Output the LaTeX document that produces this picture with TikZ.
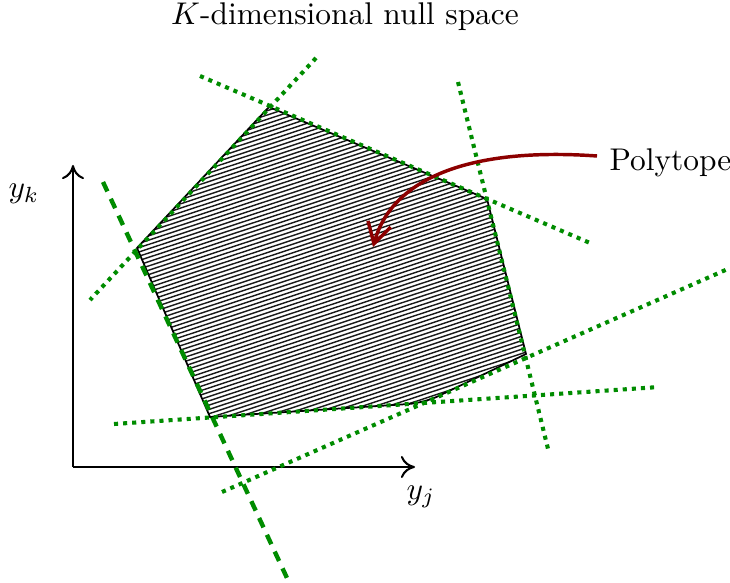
\documentclass[tikz,border=0pt]{standalone}
\usetikzlibrary{arrows.meta}
\definecolor{nsgreen}{RGB}{0,140,0}
\definecolor{nsred}{RGB}{140,0,0}
\begin{document}
\begin{tikzpicture}[x=0.3185pt,y=-0.3185pt,
  bound/.style={draw=nsgreen,line width=1.3pt,dash pattern=on 1.3pt off 1.6pt},
  bounddash/.style={draw=nsgreen,line width=1.4pt,dash pattern=on 3.3pt off 2.6pt},
  hatch/.style={line width=0.45pt,black!90},
  axis/.style={line width=0.65pt,-{To[length=4.5pt,width=7pt]}},
  lbl/.style={inner sep=0pt,font=\normalsize}]
\useasboundingbox (0,0) rectangle (730,582);
% polytope vertices
\coordinate (A) at (269,107);
\coordinate (B) at (487,199);
\coordinate (C) at (526,354);
\coordinate (D) at (424,403);
\coordinate (E) at (210,417);
\coordinate (F) at (137,248);
% hatching
\begin{scope}
  \clip (A) -- (B) -- (C) -- (D) -- (E) -- (F) -- cycle;
  \foreach \c in {186,190.3,...,570}
    \draw[hatch] (120,\c-39.6) -- (540,\c-178.2);
\end{scope}
\draw[line width=0.55pt] (A) -- (B) -- (C) [rounded corners=5pt] -- (D) [sharp corners] -- (E) -- (F) -- cycle;
% axes
\coordinate (O) at (73,467);
\coordinate (Yk) at (73,165);
\coordinate (Yj) at (415,467);
\draw[axis] (O) -- (Yk);
\draw[axis] (O) -- (Yj);
\node[lbl] (lk) at (24,194) {$y_k$};
\node[lbl] (lj) at (421,497) {$y_j$};
% constraint lines
\coordinate (ab1) at (200,76);  \coordinate (ab2) at (590,243);
\coordinate (af1) at (316,58);  \coordinate (af2) at (90,300);
\coordinate (bc1) at (458,82);  \coordinate (bc2) at (549,453);
\coordinate (fe1) at (103,182); \coordinate (fe2) at (287,578);
\coordinate (ed1) at (114,424); \coordinate (ed2) at (659,387);
\coordinate (dc1) at (222,492); \coordinate (dc2) at (730,268);
\draw[bound] (ab1) -- (ab2);
\draw[bound] (af1) -- (af2);
\draw[bound] (bc1) -- (bc2);
\draw[bounddash] (fe1) -- (fe2);
\draw[bound] (ed1) -- (ed2);
\draw[bound] (dc1) -- (dc2);
% labels
\node[lbl] (title) at (345,17) {$K$-dimensional null space};
\node[lbl,anchor=west] (poly) at (609,163) {Polytope};
\coordinate (tip) at (373,247);
\draw[nsred,line width=1.1pt,-{Straight Barb[length=6.5pt,width=7.5pt]}]
  (597,156) .. controls (470,147) and (392,178) .. (tip);
\end{tikzpicture}
\end{document}
